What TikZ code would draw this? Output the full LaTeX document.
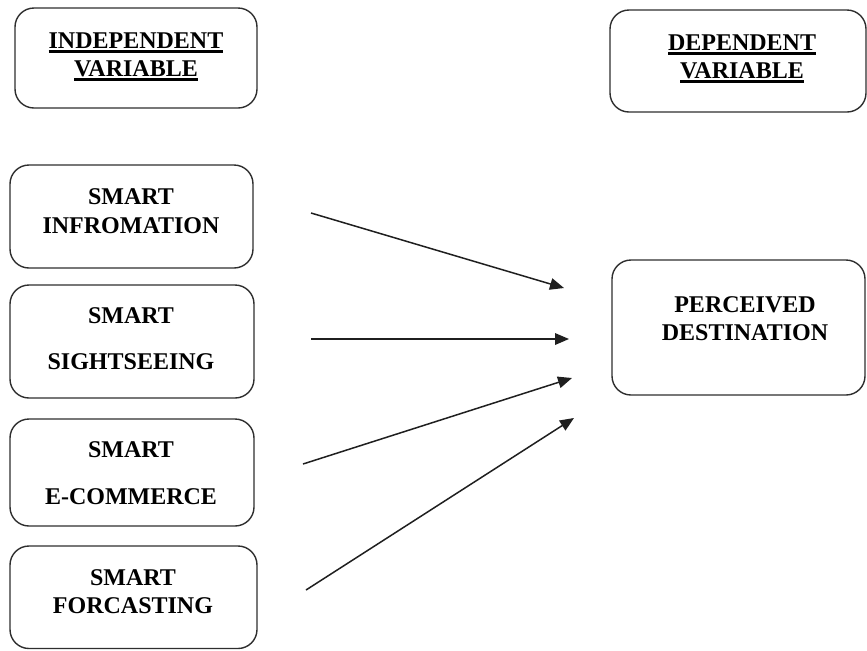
\documentclass[tikz,border=0pt]{standalone}
\usepackage{fontspec}
\setmainfont{Liberation Serif}
\usetikzlibrary{fit,arrows.meta}
\newcommand\ulword[1]{\setbox0\hbox{#1}\rlap{\rule[-2.3pt]{\wd0}{1.1pt}}\box0}
\begin{document}
\begin{tikzpicture}[x=0.5pt,y=-0.5pt,
  boxshape/.style={draw=black!82,line width=0.7pt,rounded corners=9.5pt,inner sep=0pt},
  lbl/.style={font=\fontsize{12}{14}\selectfont\bfseries,anchor=base,inner sep=0pt},
  conn/.style={draw=black!88,line width=0.75pt,-{Triangle[length=7pt,width=5.8pt]}}]
\useasboundingbox (0,0) rectangle (867,650);
% boxes
\node[boxshape,fit={(15,8) (257,108)}] (iv) {};
\node[boxshape,fit={(610,10) (866,112)}] (dv) {};
\node[boxshape,fit={(10,165) (253,268)}] (b1) {};
\node[boxshape,fit={(10,285) (254,398)}] (b2) {};
\node[boxshape,fit={(10,419) (254,526)}] (b3) {};
\node[boxshape,fit={(10,546) (257,648.5)}] (b4) {};
\node[boxshape,fit={(612,260) (865,395)}] (pd) {};
% labels
\node[lbl] (t1a) at (136,48) {\ulword{INDEPENDENT}};
\node[lbl] (t1b) at (136,76) {\ulword{VARIABLE}};
\node[lbl] (t2a) at (742,50) {\ulword{DEPENDENT}};
\node[lbl] (t2b) at (742,78) {\ulword{VARIABLE}};
\node[lbl] (s1a) at (131,204) {SMART};
\node[lbl] (s1b) at (131,233) {INFROMATION};
\node[lbl] (s2a) at (131,323) {SMART};
\node[lbl] (s2b) at (131,369) {SIGHTSEEING};
\node[lbl] (s3a) at (131,457) {SMART};
\node[lbl] (s3b) at (131,504) {E-COMMERCE};
\node[lbl] (s4a) at (133,585) {SMART};
\node[lbl] (s4b) at (133,613) {FORCASTING};
\node[lbl] (pa) at (745,312) {PERCEIVED};
\node[lbl] (pb) at (745,340) {DESTINATION};
% connector ends
\coordinate (a1s) at (311,213);
\coordinate (a1e) at (564,288);
\coordinate (a2s) at (311,339);
\coordinate (a2e) at (569,339);
\coordinate (a3s) at (303,464);
\coordinate (a3e) at (572,378);
\coordinate (a4s) at (306,590);
\coordinate (a4e) at (574,418);
\draw[conn] (a1s) -- (a1e);
\draw[conn] (a2s) -- (a2e);
\draw[conn] (a3s) -- (a3e);
\draw[conn] (a4s) -- (a4e);
\end{tikzpicture}
\end{document}
